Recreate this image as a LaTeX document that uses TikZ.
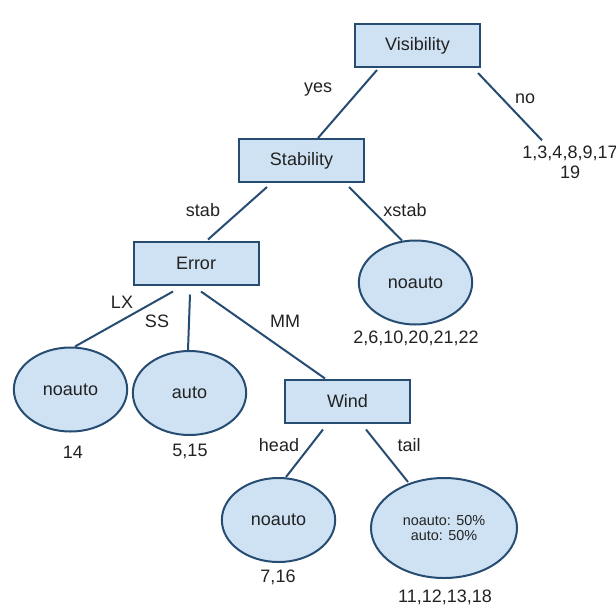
\documentclass[tikz,border=0pt]{standalone}
\usepackage{fontspec}
\setmainfont{Liberation Sans}
\usetikzlibrary{calc,shapes.geometric}
\definecolor{nodefill}{RGB}{207,226,243}
\definecolor{edgeblue}{RGB}{38,76,114}
\definecolor{txtgray}{RGB}{34,34,34}

\begin{document}
\begin{tikzpicture}[x=0.75pt,y=0.75pt,yscale=-1,xscale=1,
  box/.style={draw=edgeblue,fill=nodefill,line width=1.5pt,minimum width=93.75pt,minimum height=32.25pt,inner sep=0pt,font=\fontsize{13.5}{15}\selectfont,text=txtgray},
  leaf/.style={ellipse,draw=edgeblue,fill=nodefill,line width=1.5pt,minimum width=85pt,minimum height=63pt,inner sep=0pt,font=\fontsize{13.5}{15}\selectfont,text=txtgray},
  lbl/.style={anchor=base,inner sep=0pt,font=\fontsize{13.5}{15}\selectfont,text=txtgray},
  branch/.style={draw=edgeblue,line width=1.5pt}]
\useasboundingbox (0,0) rectangle (616,614);

%Shape: Rectangle
\node[box] (vis) at (417.5,45.5) {Visibility};
\node[box] (stab) at (301.5,160.5) {Stability};
\node[box] (err) at (196,263) {Error};
\node[box] (wind) at (347.5,401) {Wind};

%Shape: Ellipse
\node[leaf] (xstab) at (415.5,282.5) {noauto};
\node[leaf] (lx) at (70.5,389.5) {noauto};
\node[leaf] (ss) at (189.5,393) {auto};
\node[leaf] (head) at (278.5,520) {noauto};
\node[leaf,minimum width=109.5pt,minimum height=75pt,align=center,font=\fontsize{10.8}{11.25}\selectfont] (tail) at (444,528) {noauto: 50\%\\auto: 50\%};

%Text Node
\node[inner sep=0pt,align=center,font=\fontsize{13.5}{15}\selectfont,text=txtgray] (nolist) at (570,162) {1,3,4,8,9,17\\19};

%Straight Lines
\draw[branch] ($(vis.south)+(-40.5,2)$) -- ($(stab.north)+(16.5,0)$);
\draw[branch] ($(vis.south)+(60.5,5)$) -- ($(nolist.north)+(-28,-5)$);
\draw[branch] ($(stab.south)+(-34.5,4)$) -- ($(err.north)+(12,-1)$);
\draw[branch] ($(stab.south)+(47.5,4)$) -- ($(xstab.north)+(-13.5,1)$);
\draw[branch] ($(err.south)+(-23,6)$) -- ($(lx.north)+(4.5,0)$);
\draw[branch] ($(err.south)+(-6,9)$) -- ($(ss.north)+(-1.5,0)$);
\draw[branch] ($(err.south)+(5,6)$) -- ($(wind.north)+(-22.5,0)$);
\draw[branch] ($(wind.south)+(-24.5,6)$) -- ($(head.north)+(7.5,0)$);
\draw[branch] ($(wind.south)+(18.5,6)$) -- ($(tail.north)+(-36,5)$);

%Branch labels
\node[lbl] (yeslbl) at (318,92) {yes};
\node[lbl] (nolbl) at (525,103) {no};
\node[lbl] (stablbl) at (203,216) {stab};
\node[lbl] (xstablbl) at (405,216) {xstab};
\node[lbl] (lxlbl) at (122,308) {LX};
\node[lbl] (sslbl) at (157,327) {SS};
\node[lbl] (mmlbl) at (285,327) {MM};
\node[lbl] (headlbl) at (279,451) {head};
\node[lbl] (taillbl) at (409,451) {tail};

%Leaf counts
\node[lbl] (lxnum) at (73,458) {14};
\node[lbl] (ssnum) at (190,456) {5,15};
\node[lbl] (xstabnum) at (416,343) {2,6,10,20,21,22};
\node[lbl] (headnum) at (278,582) {7,16};
\node[lbl] (tailnum) at (445,602) {11,12,13,18};

\end{tikzpicture}
\end{document}
